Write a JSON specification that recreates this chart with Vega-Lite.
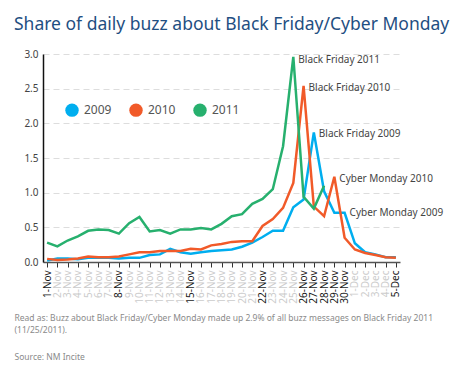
{
  "$schema": "https://vega.github.io/schema/vega-lite/v6.json",
  "autosize": "none",
  "width": 357,
  "height": 208,
  "padding": {"left": 43, "top": 54, "right": 61, "bottom": 110},
  "background": "white",
  "title": {
    "text": "Share of daily buzz about Black Friday/Cyber Monday",
    "anchor": "start",
    "frame": "group",
    "dx": -29,
    "offset": 16,
    "fontSize": 17.5,
    "font": "Noto Sans",
    "fontWeight": "normal",
    "color": "#1f4f82"
  },
  "config": {
    "view": {"stroke": null},
    "font": "Noto Sans",
    "axisX": {"titleLineHeight": 12.5}
  },
  "datasets": {
    "buzz": [
      {"date": "1-Nov", "year": "2009", "share": 0.02},
      {"date": "2-Nov", "year": "2009", "share": 0.05},
      {"date": "3-Nov", "year": "2009", "share": 0.05},
      {"date": "4-Nov", "year": "2009", "share": 0.04},
      {"date": "5-Nov", "year": "2009", "share": 0.06},
      {"date": "6-Nov", "year": "2009", "share": 0.06},
      {"date": "7-Nov", "year": "2009", "share": 0.06},
      {"date": "8-Nov", "year": "2009", "share": 0.05},
      {"date": "9-Nov", "year": "2009", "share": 0.06},
      {"date": "10-Nov", "year": "2009", "share": 0.06},
      {"date": "11-Nov", "year": "2009", "share": 0.10},
      {"date": "12-Nov", "year": "2009", "share": 0.11},
      {"date": "13-Nov", "year": "2009", "share": 0.19},
      {"date": "14-Nov", "year": "2009", "share": 0.14},
      {"date": "15-Nov", "year": "2009", "share": 0.12},
      {"date": "16-Nov", "year": "2009", "share": 0.14},
      {"date": "17-Nov", "year": "2009", "share": 0.16},
      {"date": "18-Nov", "year": "2009", "share": 0.17},
      {"date": "19-Nov", "year": "2009", "share": 0.18},
      {"date": "20-Nov", "year": "2009", "share": 0.22},
      {"date": "21-Nov", "year": "2009", "share": 0.28},
      {"date": "22-Nov", "year": "2009", "share": 0.36},
      {"date": "23-Nov", "year": "2009", "share": 0.45},
      {"date": "24-Nov", "year": "2009", "share": 0.45},
      {"date": "25-Nov", "year": "2009", "share": 0.79},
      {"date": "26-Nov", "year": "2009", "share": 0.90},
      {"date": "27-Nov", "year": "2009", "share": 1.87},
      {"date": "28-Nov", "year": "2009", "share": 1.02},
      {"date": "29-Nov", "year": "2009", "share": 0.71},
      {"date": "30-Nov", "year": "2009", "share": 0.71},
      {"date": "1-Dec", "year": "2009", "share": 0.27},
      {"date": "2-Dec", "year": "2009", "share": 0.14},
      {"date": "3-Dec", "year": "2009", "share": 0.11},
      {"date": "4-Dec", "year": "2009", "share": 0.07},
      {"date": "5-Dec", "year": "2009", "share": 0.07},
      {"date": "1-Nov", "year": "2010", "share": 0.045},
      {"date": "2-Nov", "year": "2010", "share": 0.03},
      {"date": "3-Nov", "year": "2010", "share": 0.035},
      {"date": "4-Nov", "year": "2010", "share": 0.05},
      {"date": "5-Nov", "year": "2010", "share": 0.08},
      {"date": "6-Nov", "year": "2010", "share": 0.07},
      {"date": "7-Nov", "year": "2010", "share": 0.07},
      {"date": "8-Nov", "year": "2010", "share": 0.08},
      {"date": "9-Nov", "year": "2010", "share": 0.11},
      {"date": "10-Nov", "year": "2010", "share": 0.14},
      {"date": "11-Nov", "year": "2010", "share": 0.14},
      {"date": "12-Nov", "year": "2010", "share": 0.16},
      {"date": "13-Nov", "year": "2010", "share": 0.16},
      {"date": "14-Nov", "year": "2010", "share": 0.16},
      {"date": "15-Nov", "year": "2010", "share": 0.19},
      {"date": "16-Nov", "year": "2010", "share": 0.18},
      {"date": "17-Nov", "year": "2010", "share": 0.24},
      {"date": "18-Nov", "year": "2010", "share": 0.26},
      {"date": "19-Nov", "year": "2010", "share": 0.29},
      {"date": "20-Nov", "year": "2010", "share": 0.30},
      {"date": "21-Nov", "year": "2010", "share": 0.30},
      {"date": "22-Nov", "year": "2010", "share": 0.52},
      {"date": "23-Nov", "year": "2010", "share": 0.62},
      {"date": "24-Nov", "year": "2010", "share": 0.78},
      {"date": "25-Nov", "year": "2010", "share": 1.14},
      {"date": "26-Nov", "year": "2010", "share": 2.54},
      {"date": "27-Nov", "year": "2010", "share": 0.80},
      {"date": "28-Nov", "year": "2010", "share": 0.66},
      {"date": "29-Nov", "year": "2010", "share": 1.23},
      {"date": "30-Nov", "year": "2010", "share": 0.35},
      {"date": "1-Dec", "year": "2010", "share": 0.18},
      {"date": "2-Dec", "year": "2010", "share": 0.13},
      {"date": "3-Dec", "year": "2010", "share": 0.10},
      {"date": "4-Dec", "year": "2010", "share": 0.07},
      {"date": "5-Dec", "year": "2010", "share": 0.06},
      {"date": "1-Nov", "year": "2011", "share": 0.28},
      {"date": "2-Nov", "year": "2011", "share": 0.225},
      {"date": "3-Nov", "year": "2011", "share": 0.31},
      {"date": "4-Nov", "year": "2011", "share": 0.37},
      {"date": "5-Nov", "year": "2011", "share": 0.45},
      {"date": "6-Nov", "year": "2011", "share": 0.47},
      {"date": "7-Nov", "year": "2011", "share": 0.46},
      {"date": "8-Nov", "year": "2011", "share": 0.41},
      {"date": "9-Nov", "year": "2011", "share": 0.56},
      {"date": "10-Nov", "year": "2011", "share": 0.65},
      {"date": "11-Nov", "year": "2011", "share": 0.44},
      {"date": "12-Nov", "year": "2011", "share": 0.46},
      {"date": "13-Nov", "year": "2011", "share": 0.41},
      {"date": "14-Nov", "year": "2011", "share": 0.47},
      {"date": "15-Nov", "year": "2011", "share": 0.47},
      {"date": "16-Nov", "year": "2011", "share": 0.49},
      {"date": "17-Nov", "year": "2011", "share": 0.47},
      {"date": "18-Nov", "year": "2011", "share": 0.55},
      {"date": "19-Nov", "year": "2011", "share": 0.66},
      {"date": "20-Nov", "year": "2011", "share": 0.69},
      {"date": "21-Nov", "year": "2011", "share": 0.84},
      {"date": "22-Nov", "year": "2011", "share": 0.91},
      {"date": "23-Nov", "year": "2011", "share": 1.05},
      {"date": "24-Nov", "year": "2011", "share": 1.67},
      {"date": "25-Nov", "year": "2011", "share": 2.96},
      {"date": "26-Nov", "year": "2011", "share": 0.94},
      {"date": "27-Nov", "year": "2011", "share": 0.77},
      {"date": "28-Nov", "year": "2011", "share": 1.10}
    ],
    "notes": [
      {"date": "25-Nov", "share": 2.92, "label": "Black Friday 2011"},
      {"date": "26-Nov", "share": 2.51, "label": "Black Friday 2010"},
      {"date": "27-Nov", "share": 1.85, "label": "Black Friday 2009"},
      {"date": "29-Nov", "share": 1.20, "label": "Cyber Monday 2010"},
      {"date": "30-Nov", "share": 0.70, "label": "Cyber Monday 2009"}
    ]
  },
  "encoding": {
    "x": {
      "field": "date",
      "type": "ordinal",
      "sort": null,
      "scale": {"type": "point", "padding": 0.4},
      "axis": {
        "labelAngle": -90,
        "labelAlign": "right",
        "labelBaseline": "middle",
        "labelFontSize": 10,
        "labelPadding": 3,
        "labelOverlap": false,
        "labelColor": {
          "condition": {
            "test": "indexof(['1-Nov','8-Nov','15-Nov','22-Nov','26-Nov','27-Nov','28-Nov','29-Nov','30-Nov','5-Dec'], datum.value) >= 0",
            "value": "#1a1a1a"
          },
          "value": "#cccccc"
        },
        "domainColor": "#555555",
        "domainWidth": 1.5,
        "tickColor": "#333333",
        "tickSize": 5,
        "tickWidth": 1,
        "grid": false,
        "title": [
          "Read as: Buzz about Black Friday/Cyber Monday made up 2.9% of all buzz messages on Black Friday 2011",
          "(11/25/2011)."
        ],
        "titleAnchor": "start",
        "titleAlign": "left",
        "titleBaseline": "alphabetic",
        "titleX": -29,
        "titleY": 58,
        "titleFontSize": 8.5,
        "titleFontWeight": "normal",
        "titleColor": "#8a8a8a",
        "titleLineHeight": 12.5
      }
    },
    "y": {
      "field": "share",
      "type": "quantitative",
      "scale": {"domain": [0, 3]},
      "axis": {
        "title": "Source: NM Incite",
        "titleAngle": 0,
        "titleAnchor": null,
        "titleAlign": "left",
        "titleBaseline": "alphabetic",
        "titleX": -29,
        "titleY": 305,
        "titleFontSize": 8.5,
        "titleFontWeight": "normal",
        "titleColor": "#8a8a8a",
        "values": [0, 0.5, 1, 1.5, 2, 2.5, 3],
        "format": ".1f",
        "ticks": false,
        "labelOverlap": false,
        "labelPadding": 5,
        "labelFontSize": 10,
        "labelColor": "#444444",
        "domainColor": "#111111",
        "domainWidth": 1.5,
        "gridColor": "#dddddd",
        "gridDash": [6, 4],
        "gridWidth": 1
      }
    }
  },
  "layer": [
    {
      "data": {"name": "buzz"},
      "mark": {"type": "line", "strokeWidth": 2.5, "strokeJoin": "miter"},
      "encoding": {
        "color": {
          "field": "year",
          "type": "nominal",
          "scale": {"domain": ["2009", "2010", "2011"], "range": ["#00aeef", "#f15a29", "#27b06e"]},
          "legend": {
            "title": null,
            "orient": "none",
            "direction": "horizontal",
            "legendX": 22,
            "legendY": 49,
            "padding": 0,
            "symbolType": "circle",
            "symbolSize": 180,
            "symbolStrokeWidth": 0,
            "symbolOpacity": 1,
            "labelFontSize": 12,
            "labelColor": "#555555",
            "labelOffset": 5,
            "columnPadding": 17,
            "encode": {
              "symbols": {
                "update": {
                  "fill": {"scale": "color", "field": "value"},
                  "stroke": {"value": "transparent"}
                }
              }
            }
          }
        }
      }
    },
    {
      "data": {"name": "notes"},
      "mark": {"type": "text", "align": "left", "baseline": "middle", "dx": 5, "fontSize": 10, "color": "#444444"},
      "encoding": {
        "text": {"field": "label"}
      }
    }
  ]
}
